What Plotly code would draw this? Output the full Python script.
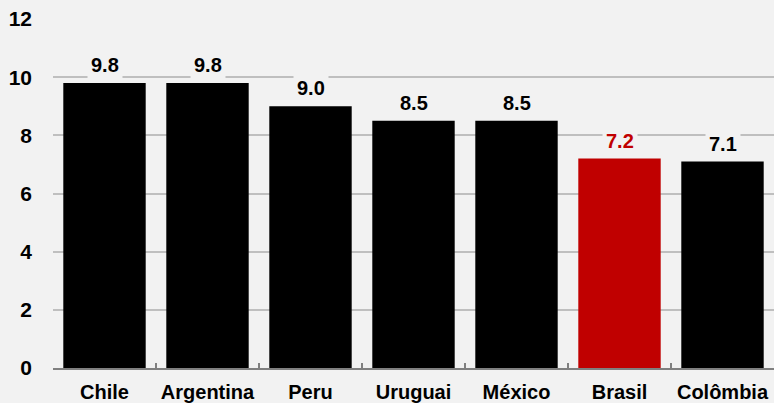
import plotly.graph_objects as go

paises = ["Chile", "Argentina", "Peru", "Uruguai", "México", "Brasil", "Colômbia"]
valores = [9.8, 9.8, 9.0, 8.5, 8.5, 7.2, 7.1]
destaque = "Brasil"
y_ticks = [0, 2, 4, 6, 8, 10, 12]

BG = "#F2F2F2"
FONTE = "Liberation Sans, Arial"
cores = ["#C00000" if p == destaque else "#000000" for p in paises]

fig = go.Figure(go.Bar(
    x=paises, y=valores, marker=dict(color=cores, line=dict(width=0)),
    width=0.8, hoverinfo="skip",
))

for p, v, c in zip(paises, valores, cores):
    fig.add_annotation(
        x=p, y=v, text=f"{v:.1f}", showarrow=False,
        yanchor="bottom", yshift=3, bgcolor=BG, borderpad=3,
        font=dict(family=FONTE, size=20, color=c, weight="bold"),
    )

fig.update_layout(
    width=774, height=403,
    margin=dict(l=53, r=0, t=19, b=35),
    paper_bgcolor=BG, plot_bgcolor=BG,
    showlegend=False,
    font=dict(family=FONTE, color="#000000"),
)
fig.update_xaxes(
    range=[-0.5, 6.5], showline=True, linecolor="#808080", linewidth=2,
    ticks="inside", tickson="boundaries", ticklen=5, tickwidth=2, tickcolor="#808080",
    tickfont=dict(size=20, family=FONTE, color="#000000", weight="bold"),
    tickangle=0, automargin=False,
    ticklabelstandoff=5, showgrid=False,
)
fig.update_yaxes(
    range=[0, 12], tickvals=y_ticks, showline=False, zeroline=False,
    showgrid=True, gridcolor="#BFBFBF", gridwidth=2,
    ticks="", ticklabelstandoff=20, automargin=False,
    tickfont=dict(size=21, family=FONTE, color="#000000", weight="bold"),
)

fig.write_html("out.html")
